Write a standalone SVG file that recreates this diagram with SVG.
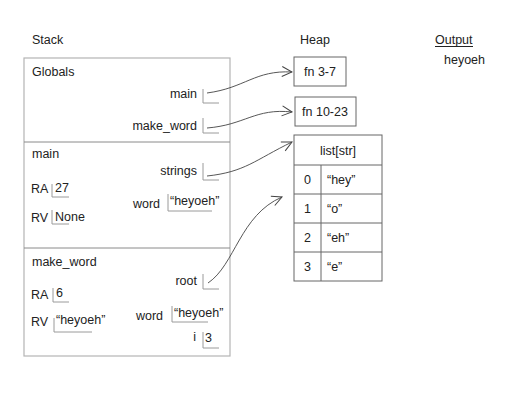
<svg xmlns="http://www.w3.org/2000/svg" width="512" height="401" viewBox="0 0 512 401">
<style>
text{font-family:"Liberation Sans",Arial,sans-serif;font-size:12.5px;fill:#222}
.r{text-anchor:end}
.m{text-anchor:middle}
.frame{fill:none;stroke:#b4b4b4;stroke-width:1.2}
.sep{stroke:#8a8a8a;stroke-width:1}
.br{fill:none;stroke:#9a9a9a;stroke-width:1}
.hb{fill:none;stroke:#666;stroke-width:1}
.ar{fill:none;stroke:#444;stroke-width:0.9}
</style>
<defs>
<marker id="ah" viewBox="0 0 12 12" refX="11" refY="6" markerWidth="12" markerHeight="12" markerUnits="userSpaceOnUse" orient="auto">
<path d="M1,1 L11,6 L1,11" fill="none" stroke="#444" stroke-width="1"/>
</marker>
</defs>
<rect width="512" height="401" fill="#fff"/>
<text x="32" y="44">Stack</text>
<text x="300" y="44">Heap</text>
<text x="435" y="44">Output</text>
<line x1="435" y1="46.5" x2="473" y2="46.5" stroke="#222" stroke-width="1"/>
<text x="444" y="64">heyoeh</text>

<g id="stack">
<rect class="frame" x="24" y="58" width="206" height="298"/>
<line class="sep" x1="24" y1="142" x2="230" y2="142"/>
<line class="sep" x1="24" y1="248" x2="230" y2="248"/>
</g>

<g id="globals">
<text x="32" y="76">Globals</text>
<text class="r" x="197" y="98">main</text>
<path class="br" d="M203 89 V103 H219"/>
<text class="r" x="197" y="130">make_word</text>
<path class="br" d="M203 118 V133 H219"/>
</g>

<g id="frame-main">
<text x="32" y="158">main</text>
<text class="r" x="197" y="175">strings</text>
<path class="br" d="M203 163 V180 H219"/>
<text x="31" y="193">RA</text>
<path class="br" d="M52 184 V197 H69"/>
<text x="55" y="192">27</text>
<text x="31" y="222">RV</text>
<path class="br" d="M52 210 V224 H69"/>
<text x="55" y="221">None</text>
<text class="r" x="160" y="208">word</text>
<path class="br" d="M168 194 V211 H212"/>
<text x="170" y="205">“heyoeh”</text>
</g>

<g id="frame-make_word">
<text x="32" y="266">make_word</text>
<text class="r" x="197" y="285">root</text>
<path class="br" d="M203 274 V289 H219"/>
<text x="31" y="299">RA</text>
<path class="br" d="M53 288 V302 H69"/>
<text x="56" y="297">6</text>
<text x="31" y="326">RV</text>
<path class="br" d="M54 318 V332 H92"/>
<text x="56" y="324">“heyoeh”</text>
<text class="r" x="163" y="320">word</text>
<path class="br" d="M172 306 V322 H208"/>
<text x="174" y="317">“heyoeh”</text>
<text class="r" x="196" y="341">i</text>
<path class="br" d="M203 332 V348 H219"/>
<text x="205" y="342">3</text>
</g>

<g id="fn-3-7">
<rect class="hb" x="294" y="57" width="52" height="29"/>
<text class="m" x="320" y="76">fn 3-7</text>
</g>
<g id="fn-10-23">
<rect class="hb" x="295" y="97" width="61" height="29"/>
<text class="m" x="325" y="116">fn 10-23</text>
</g>
<g id="list-str">
<rect class="hb" x="294" y="135" width="88" height="146"/>
<line class="hb" x1="294" y1="165" x2="382" y2="165"/>
<line class="hb" x1="294" y1="194" x2="382" y2="194"/>
<line class="hb" x1="294" y1="223" x2="382" y2="223"/>
<line class="hb" x1="294" y1="252" x2="382" y2="252"/>
<line class="hb" x1="321" y1="165" x2="321" y2="281"/>
<text class="m" x="338" y="155">list[str]</text>
<text x="304" y="184">0</text><text x="327" y="184">“hey”</text>
<text x="304" y="213">1</text><text x="327" y="213">“o”</text>
<text x="304" y="242">2</text><text x="327" y="242">“eh”</text>
<text x="304" y="271">3</text><text x="327" y="271">“e”</text>
</g>

<g id="connectors">
<path class="ar" marker-end="url(#ah)" d="M207 93 C245 88, 255 70, 292 72"/>
<path class="ar" marker-end="url(#ah)" d="M207 128 C245 125, 255 108, 292 112"/>
<path class="ar" marker-end="url(#ah)" d="M207 176 C245 172, 255 160, 292 142"/>
<path class="ar" marker-end="url(#ah)" d="M208 283 C235 265, 240 215, 282 197"/>
</g>
</svg>
